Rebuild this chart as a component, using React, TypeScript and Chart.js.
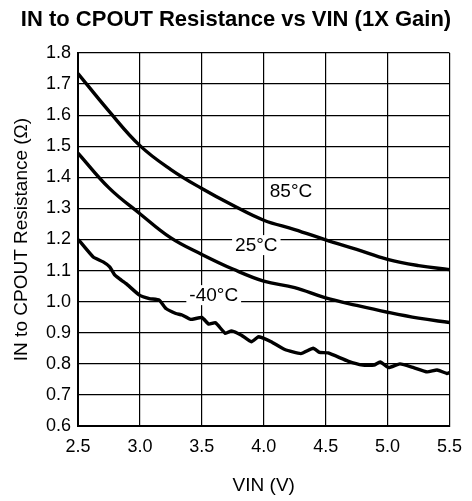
import React, { useEffect, useRef } from "react";
import { Chart, registerables } from "chart.js";

Chart.register(...registerables);

const TITLE = "IN to CPOUT Resistance vs VIN (1X Gain)";
const X_TITLE = "VIN (V)";
const Y_TITLE = "IN to CPOUT Resistance (Ω)";

const VIN_85 = [2.5, 2.75, 3.0, 3.25, 3.5, 3.75, 4.0, 4.25, 4.5, 4.75, 5.0, 5.25, 5.5];
const R_85 = [1.734, 1.613, 1.502, 1.425, 1.364, 1.31, 1.262, 1.232, 1.199, 1.168, 1.136, 1.116, 1.103];

const VIN_25 = [2.5, 2.75, 3.0, 3.25, 3.5, 3.75, 4.0, 4.25, 4.5, 4.75, 5.0, 5.25, 5.5];
const R_25 = [1.478, 1.366, 1.283, 1.205, 1.152, 1.105, 1.066, 1.045, 1.012, 0.988, 0.966, 0.947, 0.933];

const VIN_M40 = [2.503, 2.623, 2.703, 2.756, 2.796, 2.836, 2.889, 2.996, 3.076, 3.156, 3.21, 3.29, 3.34, 3.41, 3.5, 3.556, 3.61, 3.69, 3.74, 3.82, 3.9, 3.956, 3.98, 4.06, 4.17, 4.3, 4.4, 4.45, 4.52, 4.68, 4.8, 4.89, 4.94, 5.01, 5.1, 5.21, 5.32, 5.4, 5.48, 5.5];
const R_M40 = [1.2, 1.144, 1.128, 1.112, 1.086, 1.073, 1.058, 1.021, 1.01, 1.005, 0.978, 0.962, 0.957, 0.943, 0.949, 0.928, 0.932, 0.898, 0.906, 0.892, 0.871, 0.887, 0.885, 0.871, 0.846, 0.833, 0.85, 0.837, 0.835, 0.809, 0.796, 0.796, 0.806, 0.788, 0.8, 0.788, 0.774, 0.78, 0.769, 0.772];

const LABEL_TEXT = ["85°C", "25°C", "-40°C"];
const LABEL_X = [4.22, 3.94, 3.596];
const LABEL_Y = [1.358, 1.182, 1.021];

const FONT = '"Liberation Sans", Arial, Helvetica, sans-serif';

const pts = (xs: number[], ys: number[]) => xs.map((x, i) => ({ x, y: ys[i] }));

const annotPlugin = {
  id: "annot",
  afterDatasetsDraw(chart: any) {
    const ctx = chart.ctx;
    const xs = chart.scales.x;
    const ys = chart.scales.y;
    ctx.save();
    ctx.font = `19px ${FONT}`;
    ctx.textAlign = "center";
    ctx.textBaseline = "middle";
    LABEL_TEXT.forEach((t, i) => {
      const px = xs.getPixelForValue(LABEL_X[i]);
      const py = ys.getPixelForValue(LABEL_Y[i]);
      const w = ctx.measureText(t).width;
      ctx.fillStyle = "#fff";
      ctx.fillRect(px - w / 2 - 3, py - 10, w + 6, 20);
      ctx.fillStyle = "#000";
      ctx.fillText(t, px, py + 1);
    });
    ctx.font = `bold 22px ${FONT}`;
    ctx.textBaseline = "alphabetic";
    ctx.fillText(TITLE, chart.width / 2, 25.5);
    ctx.restore();
  },
};

export default function App() {
  const ref = useRef<HTMLCanvasElement | null>(null);
  useEffect(() => {
    if (!ref.current) return;
    const line = (data: any[], tension: number) => ({
      data,
      borderColor: "#000",
      borderWidth: 3.4,
      pointRadius: 0,
      tension,
      fill: false,
    });
    const chart = new Chart(ref.current, {
      type: "line",
      data: {
        datasets: [
          line(pts(VIN_85, R_85), 0.4),
          line(pts(VIN_25, R_25), 0.4),
          line(pts(VIN_M40, R_M40), 0.15),
        ] as any,
      },
      options: {
        responsive: false,
        animation: false,
        events: [],
        layout: { padding: { top: 53, right: 19, left: 0, bottom: 0 } },
        plugins: { legend: { display: false }, tooltip: { enabled: false }, title: { display: false } },
        scales: {
          x: {
            type: "linear",
            min: 2.5,
            max: 5.5,
            afterFit: (s: any) => { s.height = 75; },
            ticks: {
              stepSize: 0.5,
              color: "#000",
              padding: 10,
              font: { family: FONT, size: 18 },
              callback: (v: any) => Number(v).toFixed(1),
              maxRotation: 0,
            },
            grid: { color: "#000", lineWidth: 1.2, drawTicks: false },
            border: { color: "#000", width: 2 },
            title: { display: true, text: X_TITLE, color: "#000", font: { family: FONT, size: 19 }, padding: { top: 4, bottom: 4 } },
          },
          y: {
            type: "linear",
            min: 0.6,
            max: 1.8,
            afterFit: (s: any) => { s.width = 78; },
            ticks: {
              stepSize: 0.1,
              color: "#000",
              padding: 7,
              font: { family: FONT, size: 18 },
              callback: (v: any) => Number(v).toFixed(1),
            },
            grid: { color: "#000", lineWidth: 1.2, drawTicks: false },
            border: { color: "#000", width: 2 },
            title: { display: true, text: Y_TITLE, color: "#000", font: { family: FONT, size: 19 }, padding: { top: 10, bottom: 0 } },
          },
        },
      } as any,
      plugins: [annotPlugin],
    });
    return () => chart.destroy();
  }, []);
  return (
    <div style={{ position: "absolute", left: 0, top: 0, width: 472, height: 501, background: "#fff" }}>
      <canvas ref={ref} width={472} height={501} style={{ display: "block" }} />
    </div>
  );
}
